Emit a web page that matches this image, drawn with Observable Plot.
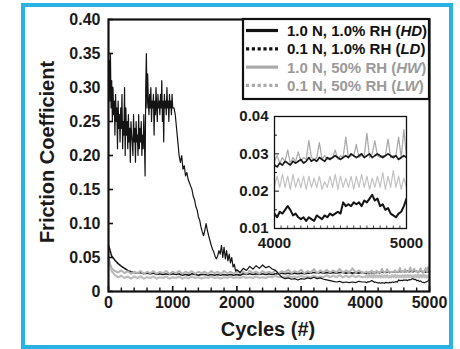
<!DOCTYPE html>
<html><head><meta charset="utf-8">
<script src="https://cdn.jsdelivr.net/npm/d3@7"></script>
<script src="https://cdn.jsdelivr.net/npm/@observablehq/plot@0.6"></script>
<style>
body{margin:0;background:#fff;}
#wrap{position:relative;width:460px;height:349px;overflow:hidden;font-family:"Liberation Sans",Arial,sans-serif;color:#1a1a1a;}
#wrap svg{position:absolute;}
#border{position:absolute;left:21px;top:3px;width:424px;height:338px;border:4px solid #27b4e4;pointer-events:none;}
</style></head>
<body><div id="wrap"><div id="border"></div></div>
<script>
// ---- axes / labels ----
const xTicks = [0, 1000, 2000, 3000, 4000, 5000];
const xMinorTicks = [200,400,600,800,1200,1400,1600,1800,2200,2400,2600,2800,3200,3400,3600,3800,4200,4400,4600,4800];
const yTicks = [0, 0.05, 0.10, 0.15, 0.20, 0.25, 0.30, 0.35, 0.40];
const insetXTicks = [4000, 5000];
const insetXMinor = [4050,4100,4150,4200,4250,4300,4350,4400,4450,4500,4550,4600,4650,4700,4750,4800,4850,4900,4950];
const insetYTicks = [0.01, 0.02, 0.03, 0.04];
const insetYMinor = [0.015, 0.025, 0.035];
const seriesCodes = ["HD", "LD", "HW", "LW"];
const seriesLabels = ["1.0 N, 1.0% RH", "0.1 N, 1.0% RH", "1.0 N, 50% RH", "0.1 N, 50% RH"];
const xTitle = "Cycles (#)";
const yTitle = "Friction Coefficient";

// ---- data ----
// HD: cycles 0..1000, every 10
const hdStart = [
0.31,0.34,0.28,0.35,0.27,0.31,0.25,0.30,0.26,0.28,
0.23,0.29,0.25,0.27,0.21,0.28,0.24,0.26,0.22,0.27,
0.24,0.29,0.21,0.25,0.23,0.30,0.20,0.27,0.23,0.25,
0.21,0.26,0.22,0.24,0.19,0.25,0.23,0.22,0.20,0.26,
0.22,0.24,0.19,0.25,0.22,0.23,0.20,0.26,0.21,0.24,
0.22,0.25,0.20,0.23,0.21,0.26,0.22,0.17,0.30,0.35,
0.27,0.32,0.28,0.26,0.29,0.27,0.30,0.25,0.28,0.27,
0.29,0.23,0.28,0.26,0.30,0.27,0.25,0.29,0.27,0.28,
0.26,0.29,0.27,0.31,0.25,0.28,0.22,0.29,0.27,0.28,
0.26,0.30,0.27,0.28,0.25,0.29,0.27,0.28,0.26,0.29,
0.27];
// HD: cycles 1020..2000, every 20
const hdDrop = [
0.27,0.26,0.24,0.22,0.20,0.19,0.20,0.18,0.185,
0.17,0.175,0.165,0.16,0.155,0.15,0.14,0.135,0.125,0.12,
0.11,0.105,0.095,0.088,0.082,0.09,0.10,0.09,0.082,0.075,
0.068,0.062,0.058,0.052,0.048,0.052,0.06,0.055,0.068,0.05,
0.065,0.048,0.06,0.045,0.055,0.042,0.05,0.036,0.04,0.03,
0.032];
// HD: cycles 2050..3950, every 50
const hdMid = [
0.028,0.034,0.031,0.037,0.033,0.038,0.034,0.039,0.035,0.037,
0.033,0.031,0.026,0.021,0.019,0.02,0.018,0.019,0.017,0.019,
0.018,0.02,0.019,0.021,0.019,0.02,0.018,0.017,0.016,0.015,
0.014,0.015,0.013,0.014,0.013,0.014,0.013,0.015,0.014];
// LD, HW, LW: cycles 0..3950, every 50
const ldMain = [
0.068,0.052,0.046,0.041,0.037,0.034,0.031,0.029,0.028,0.027,
0.028,0.026,0.027,0.026,0.027,0.025,0.026,0.025,0.026,0.025,
0.026,0.025,0.026,0.024,0.025,0.024,0.026,0.025,0.024,0.025,
0.025,0.024,0.025,0.024,0.025,0.024,0.025,0.024,0.025,0.024,
0.025,0.024,0.026,0.025,0.026,0.025,0.026,0.025,0.026,0.025,
0.026,0.025,0.026,0.026,0.027,0.026,0.027,0.026,0.027,0.026,
0.027,0.026,0.027,0.027,0.028,0.027,0.028,0.027,0.028,0.027,
0.028,0.027,0.028,0.028,0.027,0.028,0.027,0.028,0.027,0.028];
const hwMain = [
0.05,0.03,0.024,0.021,0.023,0.02,0.022,0.019,0.022,0.02,
0.022,0.019,0.021,0.02,0.022,0.019,0.021,0.02,0.022,0.019,
0.021,0.02,0.022,0.019,0.021,0.02,0.022,0.02,0.021,0.019,
0.021,0.02,0.022,0.02,0.021,0.019,0.021,0.02,0.022,0.02,
0.021,0.02,0.022,0.02,0.021,0.02,0.022,0.02,0.021,0.02,
0.022,0.021,0.023,0.021,0.022,0.021,0.023,0.021,0.022,0.021,
0.023,0.021,0.022,0.021,0.023,0.021,0.022,0.021,0.024,0.021,
0.023,0.021,0.024,0.021,0.023,0.021,0.024,0.021,0.023,0.021];
const lwMain = [
0.045,0.034,0.03,0.028,0.031,0.027,0.03,0.026,0.029,0.027,
0.03,0.026,0.029,0.027,0.03,0.026,0.029,0.027,0.03,0.026,
0.029,0.027,0.03,0.026,0.029,0.027,0.03,0.026,0.029,0.027,
0.029,0.026,0.03,0.027,0.029,0.026,0.03,0.027,0.029,0.026,
0.03,0.027,0.029,0.026,0.03,0.027,0.029,0.026,0.03,0.027,
0.029,0.027,0.031,0.027,0.03,0.028,0.032,0.027,0.03,0.028,
0.032,0.027,0.03,0.028,0.033,0.027,0.031,0.028,0.032,0.028,
0.031,0.028,0.033,0.028,0.031,0.028,0.034,0.028,0.031,0.028];
// Inset: cycles 4000..5000, every 20
const hdInset = [
0.014,0.013,0.0145,0.014,0.015,0.016,0.015,0.0135,0.014,0.013,
0.0125,0.013,0.012,0.013,0.0125,0.012,0.0135,0.013,0.0125,0.0135,
0.013,0.014,0.0135,0.014,0.0145,0.014,0.017,0.016,0.0165,0.016,
0.017,0.0165,0.017,0.016,0.0175,0.017,0.018,0.019,0.0175,0.018,
0.016,0.0165,0.015,0.0155,0.014,0.0135,0.013,0.014,0.0145,0.016,
0.018];
const ldInset = [
0.027,0.0265,0.0275,0.027,0.028,0.0275,0.027,0.028,0.0275,0.028,
0.0285,0.0275,0.028,0.029,0.028,0.0285,0.028,0.029,0.0285,0.028,
0.029,0.0285,0.029,0.0295,0.029,0.0285,0.029,0.0295,0.029,0.03,
0.0295,0.029,0.0295,0.03,0.029,0.0295,0.03,0.029,0.0295,0.03,
0.0295,0.029,0.0295,0.03,0.0295,0.029,0.0295,0.0285,0.029,0.0295,
0.029];
const hwInset = [
0.0215,0.024,0.021,0.0245,0.021,0.024,0.0205,0.0245,0.021,0.0235,
0.021,0.024,0.0205,0.024,0.021,0.0235,0.021,0.024,0.0205,0.0225,
0.021,0.024,0.021,0.0245,0.0205,0.024,0.021,0.0235,0.021,0.024,
0.0205,0.024,0.021,0.0245,0.021,0.024,0.0205,0.0235,0.021,0.024,
0.021,0.025,0.0205,0.024,0.021,0.0255,0.021,0.024,0.0205,0.0235,
0.021];
const lwInset = [
0.028,0.0295,0.0275,0.029,0.028,0.031,0.0275,0.029,0.028,0.0305,
0.028,0.029,0.0285,0.0335,0.029,0.0285,0.029,0.033,0.0285,0.0295,
0.0285,0.029,0.029,0.031,0.0285,0.0295,0.029,0.0345,0.029,0.0295,
0.0295,0.0325,0.029,0.0295,0.0295,0.0355,0.029,0.030,0.0335,0.0295,
0.029,0.0295,0.0295,0.034,0.029,0.0295,0.0295,0.0345,0.029,0.0365,
0.029];

// ---- build tables ----
const seq = (start, step, arr) => arr.map((v, i) => ({cycle: start + i * step, value: v}));
const insetRows = {HD: seq(4000,20,hdInset), LD: seq(4000,20,ldInset), HW: seq(4000,20,hwInset), LW: seq(4000,20,lwInset)};
const mainRows = {
  HD: [...seq(0,10,hdStart), ...seq(1020,20,hdDrop), ...seq(2050,50,hdMid), ...insetRows.HD],
  LD: [...seq(0,50,ldMain), ...insetRows.LD],
  HW: [...seq(0,50,hwMain), ...insetRows.HW],
  LW: [...seq(0,50,lwMain), ...insetRows.LW]
};
const mainStyle = {
  HD: {stroke: "#141414", strokeWidth: 1.2},
  LD: {stroke: "#141414", strokeWidth: 1.6, strokeDasharray: "2,1.2"},
  HW: {stroke: "#bdbdbd", strokeWidth: 2.2},
  LW: {stroke: "#b3b3b3", strokeWidth: 2.0, strokeDasharray: "2.5,1"}
};
const insetStyle = {
  HD: {stroke: "#141414", strokeWidth: 2},
  LD: {stroke: "#141414", strokeWidth: 1.7, strokeDasharray: "2,1.2"},
  HW: {stroke: "#c2c2c2", strokeWidth: 1.2},
  LW: {stroke: "#a8a8a8", strokeWidth: 1.3, strokeDasharray: "2,1"}
};
const mainOrder = ["LD", "HW", "LW", "HD"];
const insetOrder = ["HW", "LW", "LD", "HD"];
const fmt = d => d === 0 ? "0" : d.toFixed(2);

const wrap = document.getElementById("wrap");
const font = "'Liberation Sans', Arial, sans-serif";

// ---- main plot ----
const W = 460, H = 349, mL = 108, mR = 31, mT = 19, mB = 58;
const iw = W - mL - mR, ih = H - mT - mB;
const main = Plot.plot({
  width: W, height: H, marginLeft: mL, marginRight: mR, marginTop: mT, marginBottom: mB,
  style: {background: "transparent", fontFamily: font, color: "#1a1a1a", overflow: "visible"},
  x: {domain: [0, 5000]},
  y: {domain: [0, 0.4]},
  marks: [
    ...mainOrder.map(k => Plot.line(mainRows[k], {x: "cycle", y: "value", ...mainStyle[k]})),
    Plot.tickY(yTicks, {y: d => d, insetRight: iw - 5, stroke: "#111", strokeWidth: 1.6}),
    Plot.tickX(xTicks, {x: d => d, insetTop: ih - 5, stroke: "#111", strokeWidth: 1.6}),
    Plot.tickX(xMinorTicks, {x: d => d, insetTop: ih - 3.5, stroke: "#111", strokeWidth: 1.4}),
    Plot.axisY(yTicks, {tickSize: 0, tickPadding: 8, tickFormat: fmt, fontSize: 16, fontWeight: "bold", label: null}),
    Plot.axisX(xTicks, {tickSize: 0, tickPadding: 5, tickFormat: d => String(d), fontSize: 16, fontWeight: "bold", label: null}),
    Plot.frame({stroke: "#111", strokeWidth: 2.2})
  ]
});
main.style.left = "0px"; main.style.top = "0px";
wrap.appendChild(main);

// ---- inset plot ----
const IW = 200, IH = 160, imL = 54, imR = 14, imT = 16, imB = 32;
const iiw = IW - imL - imR, iih = IH - imT - imB;
const inset = Plot.plot({
  width: IW, height: IH, marginLeft: imL, marginRight: imR, marginTop: imT, marginBottom: imB,
  style: {background: "transparent", fontFamily: font, color: "#1a1a1a", overflow: "visible"},
  x: {domain: [4000, 5000]},
  y: {domain: [0.01, 0.04]},
  marks: [
    Plot.frame({fill: "white"}),
    ...insetOrder.map(k => Plot.line(insetRows[k], {x: "cycle", y: "value", clip: true, ...insetStyle[k]})),
    Plot.tickY(insetYTicks, {y: d => d, insetRight: iiw - 5, stroke: "#111"}),
    Plot.tickY(insetYMinor, {y: d => d, insetRight: iiw - 3, stroke: "#111"}),
    Plot.tickX(insetXMinor, {x: d => d, insetTop: iih - 2.5, stroke: "#111", strokeWidth: 0.8}),
    Plot.axisY(insetYTicks, {tickSize: 0, tickPadding: 6, tickFormat: d => d.toFixed(2), fontSize: 15, fontWeight: "bold", label: null}),
    Plot.axisX(insetXTicks, {tickSize: 0, tickPadding: 9, tickFormat: d => String(d), fontSize: 15, fontWeight: "bold", label: null}),
    Plot.frame({stroke: "#111", strokeWidth: 1.3})
  ]
});
inset.style.left = "220px"; inset.style.top = "100px";
wrap.appendChild(inset);

// ---- overlay: legend + axis titles ----
const ov = d3.create("svg").attr("width", W).attr("height", H)
  .style("left", "0px").style("top", "0px").style("font-family", font);
const lg = ov.append("g");
lg.append("rect").attr("x", 243).attr("y", 19).attr("width", 186).attr("height", 80)
  .attr("fill", "white").attr("stroke", "#111").attr("stroke-width", 2.2);
const legendText = {HD: "#111", LD: "#111", HW: "#9a9a9a", LW: "#9a9a9a"};
const legendLine = {HD: "#111", LD: "#111", HW: "#aaaaaa", LW: "#aaaaaa"};
seriesCodes.forEach((k, i) => {
  const y = 30.5 + i * 18.3;
  lg.append("line").attr("x1", 246).attr("x2", 278).attr("y1", y).attr("y2", y)
    .attr("stroke", legendLine[k]).attr("stroke-width", 3.2)
    .attr("stroke-dasharray", mainStyle[k].strokeDasharray ? "3.2,2.6" : null);
  const t = lg.append("text").attr("x", 287).attr("y", y).attr("dy", "0.36em")
    .attr("font-size", 15).attr("font-weight", "bold").attr("fill", legendText[k]);
  t.append("tspan").text(seriesLabels[i] + " (");
  t.append("tspan").attr("font-style", "italic").text(k);
  t.append("tspan").text(")");
});
ov.append("text").attr("transform", "translate(54,152) rotate(-90)").attr("text-anchor", "middle")
  .attr("font-size", 20).attr("font-weight", "bold").attr("fill", "#1a1a1a").text(yTitle);
ov.append("text").attr("x", 268).attr("y", 336).attr("text-anchor", "middle")
  .attr("font-size", 20).attr("font-weight", "bold").attr("fill", "#1a1a1a").text(xTitle);
wrap.appendChild(ov.node());
</script>
</body></html>
